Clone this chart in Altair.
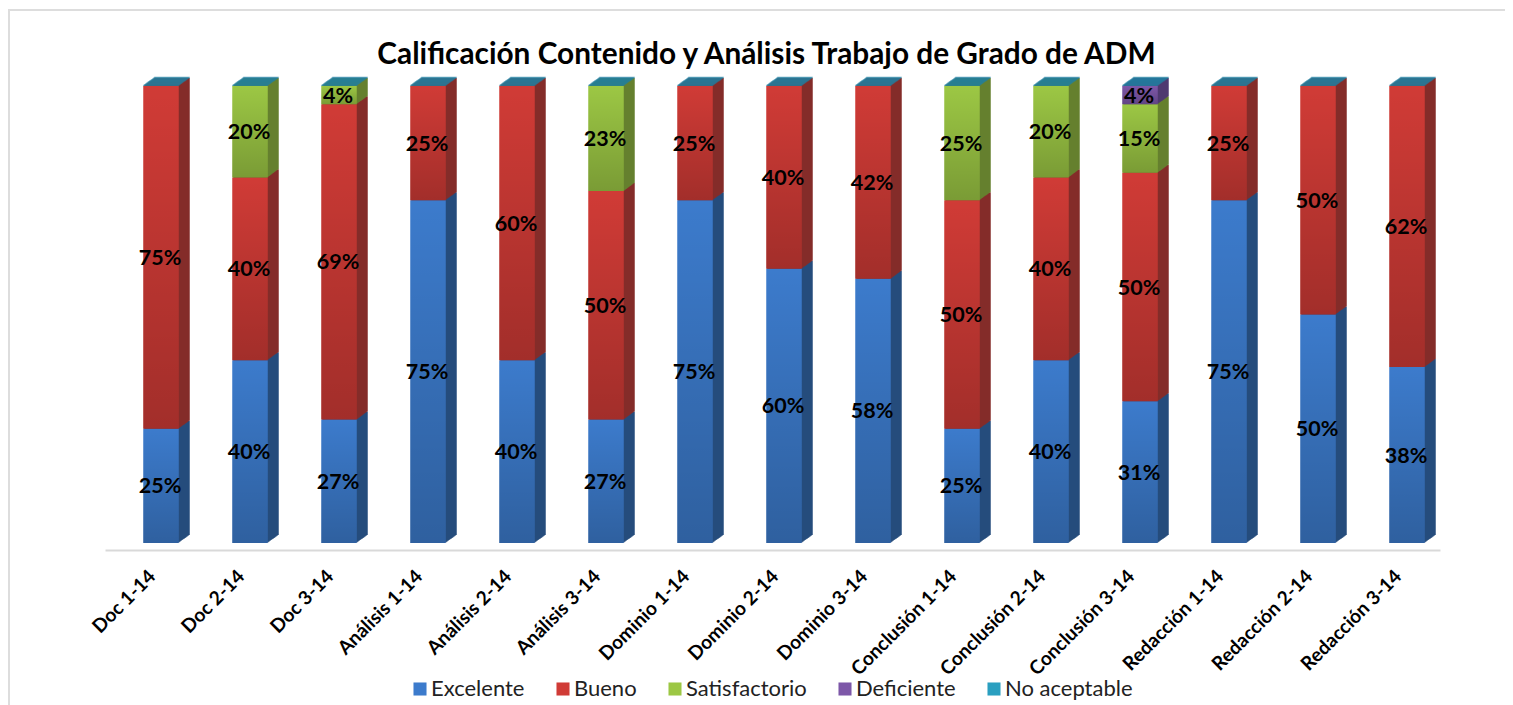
import altair as alt
import pandas as pd

categories = ["Doc 1-14", "Doc 2-14", "Doc 3-14", "Análisis 1-14", "Análisis 2-14", "Análisis 3-14",
              "Dominio 1-14", "Dominio 2-14", "Dominio 3-14", "Conclusión 1-14", "Conclusión 2-14",
              "Conclusión 3-14", "Redacción 1-14", "Redacción 2-14", "Redacción 3-14"]
excelente = [25, 40, 27, 75, 40, 27, 75, 60, 57.8, 25, 40, 31, 75, 50, 38.5]
bueno = [75, 40, 69, 25, 60, 50, 25, 40, 42.2, 50, 40, 50, 25, 50, 61.5]
satisfactorio = [0, 20, 4, 0, 0, 23, 0, 0, 0, 25, 20, 15, 0, 0, 0]
deficiente = [0, 0, 0, 0, 0, 0, 0, 0, 0, 0, 0, 4, 0, 0, 0]
no_aceptable = [0] * 15

series = {"Excelente": excelente, "Bueno": bueno, "Satisfactorio": satisfactorio,
          "Deficiente": deficiente, "No aceptable": no_aceptable}
front = ["#3c7bcc", "#d03b36", "#9cc744", "#7d57a8", "#2a9fc0"]
side = ["#264d7c", "#842c2a", "#66812f", "#4f3a70", "#1f7f9f"]
side_map = dict(zip(series, side))

rows = []
for i, c in enumerate(categories):
    start = 0
    for name, vals in series.items():
        v = vals[i]
        rows.append(dict(cat=c, serie=name, value=v, y0=start, y1=start + v, mid=start + v / 2,
                         label=f"{round(v)}%", side=side_map[name]))
        start += v
df = pd.DataFrame(rows)

x = alt.X("cat:N", sort=categories, title=None,
          scale=alt.Scale(paddingInner=0, paddingOuter=0),
          axis=alt.Axis(labelAngle=-45, labelAlign="right", labelBaseline="middle", labelFont="Lato",
                        labelFontWeight="bold", labelFontSize=19.2, labelColor="#000", labelOffset=3,
                        labelPadding=23, ticks=False, domainColor="#d9d9d9", domainWidth=2,
                        labelOverlap=False, labelLimit=300))
yscale = alt.Scale(domain=[-1.53, 100], nice=False, clamp=False)
y = alt.Y("y1:Q", scale=yscale, axis=None)
BAR = 35.5
SHIFT = 11.5
DEPTH = 11
base = alt.Chart(df)
layers = []
# grey frame of the picture
FRAME = "#dddddd"
layers.append(base.mark_rule(color=FRAME, strokeWidth=2).encode(
    x=alt.value(-97), x2=alt.value(1400), y=alt.value(-76)))
layers.append(base.mark_rule(color=FRAME, strokeWidth=2).encode(
    x=alt.value(-96), y=alt.value(-76), y2=alt.value(619)))
for i in range(DEPTH, 0, -1):
    dx, dy = SHIFT + i, -0.73 * i
    layers.append(base.mark_bar(size=BAR, xOffset=dx, yOffset=dy, y2Offset=dy).encode(
        x=x, y=y, y2="y0:Q", color=alt.Color("side:N", scale=None)))
    layers.append(base.transform_filter("datum.serie == 'No aceptable'").mark_tick(
        orient="horizontal", size=BAR, thickness=1.5, xOffset=dx, yOffset=dy - 0.5, color="#217f9f").encode(
        x=x, y=alt.Y("y1:Q", scale=yscale, axis=None)))
layers.append(base.mark_tick(orient="horizontal", size=BAR, thickness=1.5, xOffset=SHIFT, yOffset=-0.5,
                             color="#217f9f").transform_filter("datum.serie == 'No aceptable'").encode(
    x=x, y=alt.Y("y1:Q", scale=yscale, axis=None)))
layers.append(base.mark_bar(size=BAR, xOffset=SHIFT).encode(
    x=x, y=y, y2="y0:Q",
    color=alt.Color("serie:N", sort=list(series), scale=alt.Scale(domain=list(series), range=front),
                    legend=alt.Legend(title=None, orient="none", legendX=304, legendY=592, direction="horizontal",
                                      columns=5, symbolType="square", symbolSize=170, symbolStrokeWidth=0,
                                      labelFont="Lato", labelFontSize=22, labelColor="#222", columnPadding=27,
                                      labelOffset=0, labelLimit=300, symbolOpacity=1))))
shade = alt.Gradient(gradient="linear", x1=0, y1=0, x2=0, y2=1,
                     stops=[alt.GradientStop(color="rgba(0,0,0,0)", offset=0),
                            alt.GradientStop(color="rgba(0,0,0,0.22)", offset=1)])
layers.append(base.transform_filter("datum.value > 0").mark_bar(size=BAR, xOffset=SHIFT, color=shade).encode(
    x=x, y=y, y2="y0:Q"))
layers.append(base.transform_filter("datum.value > 0").mark_text(
    font="Lato", fontWeight="bold", fontSize=21.5, color="#000", xOffset=SHIFT - 1, yOffset=1.5).encode(
    x=x, y=alt.Y("mid:Q", scale=yscale, axis=None), text="label:N"))

chart = alt.layer(*layers).properties(
    width=1335, height=464,
    title=alt.TitleParams("Calificación Contenido y Análisis Trabajo de Grado de ADM", font="Lato", fontWeight="bold",
                          fontSize=29.8, color="#000", anchor="middle", offset=-61, frame="group", dx=-6),
    padding={"left": 97, "top": 78, "right": 65, "bottom": 155},
    autosize=alt.AutoSizeParams(type="none"),
    background="white",
).configure_view(stroke=None)

chart.save("out.html", embed_options={"renderer": "svg", "actions": False})
